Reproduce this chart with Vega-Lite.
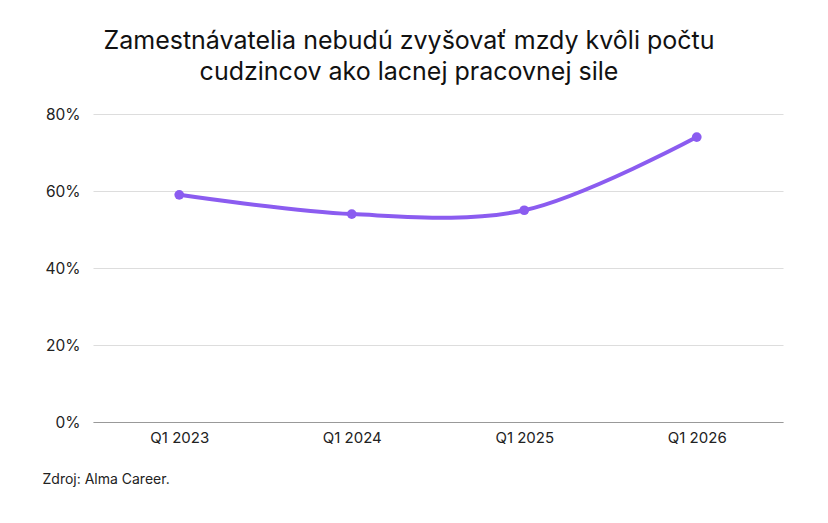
{
  "$schema": "https://vega.github.io/schema/vega-lite/v6.json",
  "width": 690,
  "height": 308,
  "autosize": {"type": "none"},
  "padding": {"left": 93, "top": 114, "right": 45, "bottom": 101},
  "background": "white",
  "title": {
    "text": ["Zamestnávatelia nebudú zvyšovať mzdy kvôli počtu", "cudzincov ako lacnej pracovnej sile"],
    "anchor": "middle",
    "frame": "group",
    "dx": -29,
    "offset": 22,
    "fontSize": 25,
    "font": "Inter",
    "fontWeight": "normal",
    "color": "#111111",
    "lineHeight": 31
  },
  "data": {
    "values": [
      {"quarter": "Q1 2023", "share": 0.59},
      {"quarter": "Q1 2024", "share": 0.54},
      {"quarter": "Q1 2025", "share": 0.55},
      {"quarter": "Q1 2026", "share": 0.74}
    ]
  },
  "encoding": {
    "x": {
      "field": "quarter",
      "type": "ordinal",
      "scale": {"type": "point", "padding": 0.5},
      "axis": {
        "labelAngle": 0,
        "labelFont": "Inter",
        "labelFontSize": 15,
        "labelColor": "#222222",
        "labelPadding": 8,
        "ticks": false,
        "domainColor": "#999999",
        "domainWidth": 1,
        "title": "Zdroj: Alma Career.",
        "titleFont": "Inter",
        "titleFontSize": 14,
        "titleFontWeight": "normal",
        "titleColor": "#222222",
        "titleAnchor": "start",
        "titleAlign": "left",
        "titleX": -51,
        "titleY": 50
      }
    },
    "y": {
      "field": "share",
      "type": "quantitative",
      "scale": {"domain": [0, 0.8]},
      "axis": {
        "format": ".0%",
        "values": [0, 0.2, 0.4, 0.6, 0.8],
        "title": null,
        "domain": false,
        "ticks": false,
        "labelFont": "Inter",
        "labelFontSize": 15.5,
        "labelColor": "#222222",
        "labelPadding": 13,
        "gridColor": "#dddddd",
        "gridWidth": 1
      }
    }
  },
  "layer": [
    {
      "mark": {"type": "line", "interpolate": "catmull-rom", "color": "#8b5cf0", "strokeWidth": 4}
    },
    {
      "mark": {"type": "point", "filled": true, "opacity": 1, "color": "#8b5cf0", "size": 95}
    }
  ],
  "config": {"view": {"stroke": null}}
}
